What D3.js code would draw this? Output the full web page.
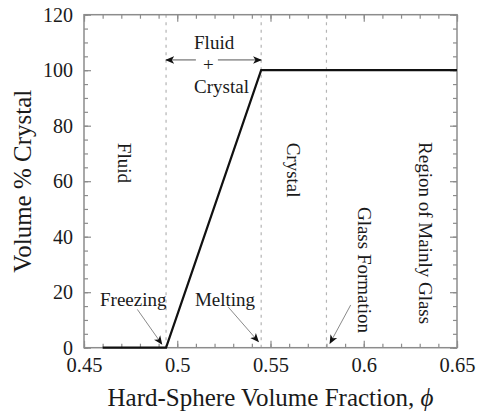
<!DOCTYPE html>
<html>
<head>
<meta charset="utf-8">
<script src="https://cdn.jsdelivr.net/npm/d3@7"></script>
<style>
  html, body { margin: 0; padding: 0; background: #fff; }
  svg { display: block; }
  text { font-family: "Liberation Serif", "Times New Roman", serif; fill: #1a1a1a; }
</style>
</head>
<body>
<svg id="chart" width="480" height="411"></svg>
<script>
// Crystal fraction versus hard-sphere volume fraction
const phi = [0.46, 0.494, 0.545, 0.65];
const crystalPct = [0, 0, 100, 100];

// Phase boundaries: freezing, melting, glass formation
const boundaries = [0.494, 0.545, 0.58];

// Axis ticks
const xMajor = [0.45, 0.5, 0.55, 0.6, 0.65];
const xLabels = ["0.45", "0.5", "0.55", "0.6", "0.65"];
const xMinor = d3.range(45, 66).map(v => v / 100);
const yMajor = [0, 20, 40, 60, 80, 100, 120];
const yMinor = d3.range(0, 121, 5);

// Region labels (rotated), placed in data units
const regionText = ["Fluid", "Crystal", "Glass Formation", "Region of Mainly Glass"];
const regionPhi = [0.468, 0.5591, 0.5967, 0.6294];
const regionPct = [66.6, 64, 28, 41.3];

// Transition labels with pointers
const pointerText = ["Freezing", "Melting"];
const pointerTextPhi = [0.4586, 0.5095];
const pointerTextPct = [15, 15];
const pointerFrom = [[0.4786, 13.8], [0.5274, 14.6], [0.593, 15.4]];
const pointerTo = [[0.4917, 1.3], [0.5435, 2.2], [0.5819, 1.6]];

// Coexistence label
const coexText = ["Fluid", "+", "Crystal"];
const coexPhi = [0.509, 0.5167, 0.509];
const coexPct = [107.6, 99.7, 91.7];
const coexArrowPct = 103.7;
const coexGap = [0.51, 0.5218];

const svg = d3.select("#chart");
const margin = { left: 84, right: 23, top: 14.7, bottom: 63.3 };
const W = 480, H = 411;
const x = d3.scaleLinear().domain([0.45, 0.65]).range([margin.left, W - margin.right]);
const y = d3.scaleLinear().domain([0, 120]).range([H - margin.bottom, margin.top]);
const axisColor = "#8c8c8c";

// arrowhead markers
const defs = svg.append("defs");
defs.append("marker")
  .attr("id", "head")
  .attr("viewBox", "0 0 10 10")
  .attr("refX", 9).attr("refY", 5)
  .attr("markerWidth", 9).attr("markerHeight", 9)
  .attr("markerUnits", "userSpaceOnUse")
  .attr("orient", "auto")
  .append("path")
  .attr("d", "M0,0.8 L10,5 L0,9.2 L2.6,5 Z")
  .attr("fill", "#111");

// phase boundary lines
svg.append("g").selectAll("line").data(boundaries).join("line")
  .attr("x1", d => x(d)).attr("x2", d => x(d))
  .attr("y1", y(120)).attr("y2", y(0))
  .attr("stroke", "#b4b4b4").attr("stroke-width", 1.2)
  .attr("stroke-dasharray", "3,4.5");

// ticks (inward on all four sides)
function styleAxis(g) {
  g.select(".domain").remove();
  g.selectAll(".tick line").attr("stroke", axisColor).attr("stroke-width", 1.2);
}
const fmtX = d => xLabels[xMajor.indexOf(d)];

svg.append("g").attr("transform", `translate(0,${y(0)})`)
  .call(d3.axisBottom(x).tickValues(xMinor).tickSize(-4).tickFormat(""))
  .call(styleAxis);
svg.append("g").attr("transform", `translate(0,${y(0)})`)
  .call(d3.axisBottom(x).tickValues(xMajor).tickSize(-7).tickPadding(10).tickFormat(fmtX))
  .call(styleAxis)
  .call(g => g.selectAll(".tick text").attr("font-size", 20.5).attr("fill", "#1a1a1a")
    .attr("font-family", "Liberation Serif"));
svg.append("g").attr("transform", `translate(0,${y(120)})`)
  .call(d3.axisTop(x).tickValues(xMinor).tickSize(-4).tickFormat(""))
  .call(styleAxis);
svg.append("g").attr("transform", `translate(0,${y(120)})`)
  .call(d3.axisTop(x).tickValues(xMajor).tickSize(-7).tickFormat(""))
  .call(styleAxis);

svg.append("g").attr("transform", `translate(${x(0.45)},0)`)
  .call(d3.axisLeft(y).tickValues(yMinor).tickSize(-4).tickFormat(""))
  .call(styleAxis);
svg.append("g").attr("transform", `translate(${x(0.45)},0)`)
  .call(d3.axisLeft(y).tickValues(yMajor).tickSize(-7).tickPadding(11).tickFormat(d3.format("d")))
  .call(styleAxis)
  .call(g => g.selectAll(".tick text").attr("font-size", 20).attr("fill", "#1a1a1a")
    .attr("font-family", "Liberation Serif"));
svg.append("g").attr("transform", `translate(${x(0.65)},0)`)
  .call(d3.axisRight(y).tickValues(yMinor).tickSize(-4).tickFormat(""))
  .call(styleAxis);
svg.append("g").attr("transform", `translate(${x(0.65)},0)`)
  .call(d3.axisRight(y).tickValues(yMajor).tickSize(-7).tickFormat(""))
  .call(styleAxis);

// frame
svg.append("rect")
  .attr("x", x(0.45)).attr("y", y(120))
  .attr("width", x(0.65) - x(0.45)).attr("height", y(0) - y(120))
  .attr("fill", "none").attr("stroke", axisColor).attr("stroke-width", 1.5);

// crystal fraction curve
svg.append("path")
  .datum(d3.zip(phi, crystalPct))
  .attr("d", d3.line().x(d => x(d[0])).y(d => y(d[1])))
  .attr("fill", "none").attr("stroke", "#111").attr("stroke-width", 2.2)
  .attr("stroke-linejoin", "miter");

// region labels
svg.append("g").selectAll("text").data(regionText).join("text")
  .attr("transform", (d, i) => `translate(${x(regionPhi[i])},${y(regionPct[i])}) rotate(90)`)
  .attr("text-anchor", "middle")
  .attr("font-size", 19)
  .text(d => d);

// transition labels and pointers
svg.append("g").selectAll("text").data(pointerText).join("text")
  .attr("x", (d, i) => x(pointerTextPhi[i]))
  .attr("y", (d, i) => y(pointerTextPct[i]))
  .attr("font-size", 19)
  .text(d => d);
svg.append("g").selectAll("line").data(pointerFrom).join("line")
  .attr("x1", d => x(d[0])).attr("y1", d => y(d[1]))
  .attr("x2", (d, i) => x(pointerTo[i][0])).attr("y2", (d, i) => y(pointerTo[i][1]))
  .attr("stroke", "#8a8a8a").attr("stroke-width", 1)
  .attr("marker-end", "url(#head)");

// fluid + crystal coexistence label
svg.append("g").selectAll("text").data(coexText).join("text")
  .attr("x", (d, i) => x(coexPhi[i]))
  .attr("y", (d, i) => y(coexPct[i]))
  .attr("text-anchor", (d, i) => i === 1 ? "middle" : "start")
  .attr("font-size", 19)
  .text(d => d);
svg.append("line")
  .attr("x1", x(coexGap[0])).attr("x2", x(boundaries[0]))
  .attr("y1", y(coexArrowPct)).attr("y2", y(coexArrowPct))
  .attr("stroke", "#555").attr("stroke-width", 1)
  .attr("marker-end", "url(#head)");
svg.append("line")
  .attr("x1", x(coexGap[1])).attr("x2", x(boundaries[1]))
  .attr("y1", y(coexArrowPct)).attr("y2", y(coexArrowPct))
  .attr("stroke", "#555").attr("stroke-width", 1)
  .attr("marker-end", "url(#head)");

// axis titles
svg.append("text")
  .attr("x", (x(0.45) + x(0.65)) / 2).attr("y", 406)
  .attr("text-anchor", "middle").attr("font-size", 25)
  .text("Hard-Sphere Volume Fraction, ")
  .append("tspan").attr("font-style", "italic").text("\u03D5");
svg.append("text")
  .attr("transform", `translate(31,${(y(0) + y(120)) / 2}) rotate(-90)`)
  .attr("text-anchor", "middle").attr("font-size", 25)
  .text("Volume % Crystal");
</script>
</body>
</html>
